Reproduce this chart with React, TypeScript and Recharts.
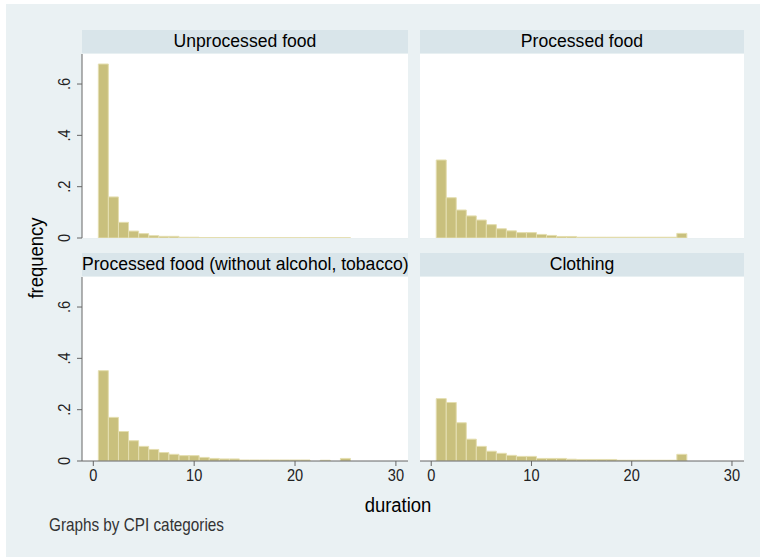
import { Bar, BarChart, CartesianGrid, XAxis, YAxis } from 'recharts'

const durations = [1, 2, 3, 4, 5, 6, 7, 8, 9, 10, 11, 12, 13, 14, 15, 16, 17, 18, 19, 20, 21, 22, 23, 24, 25]

const unprocessedFood = [
  0.678, 0.16, 0.061, 0.027, 0.017, 0.009, 0.0065, 0.0065, 0.003, 0.003, 0.002, 0.002, 0.0015,
  0.0015, 0.001, 0.001, 0.001, 0.001, 0.001, 0.001, 0.001, 0.001, 0.001, 0.001, 0.001,
]
const processedFood = [
  0.304, 0.157, 0.109, 0.086, 0.07, 0.052, 0.036, 0.028, 0.021, 0.021, 0.014, 0.01, 0.006, 0.006,
  0.003, 0.003, 0.003, 0.003, 0.003, 0.003, 0.003, 0.003, 0.003, 0.003, 0.018,
]
const processedNoAlcohol = [
  0.352, 0.17, 0.115, 0.079, 0.057, 0.045, 0.033, 0.026, 0.021, 0.021, 0.014, 0.01, 0.008, 0.008,
  0.004, 0.004, 0.004, 0.004, 0.004, 0.004, 0.004, 0, 0.003, 0, 0.01,
]
const clothing = [
  0.243, 0.228, 0.149, 0.085, 0.057, 0.038, 0.03, 0.022, 0.018, 0.018, 0.01, 0.01, 0.01, 0.007,
  0.006, 0.006, 0.006, 0.006, 0.003, 0.003, 0.003, 0.003, 0.003, 0.003, 0.026,
]

const yTicks = [0, 0.2, 0.4, 0.6]
const xTicks = [0, 10, 20, 30]

const BG = '#eaf1f3'
const HEADER = '#d9e5ea'
const BAR = '#c9c07d'
const AXIS = '#666666'
const SANS = '"Liberation Sans", Arial, sans-serif'

// stata uses a narrow face here, so squeeze Liberation Sans horizontally
function NarrowText({
  x,
  y,
  size,
  squeeze = 0.86,
  anchor = 'middle',
  rotate = false,
  fill = '#222',
  children,
}: {
  x: number
  y: number
  size: number
  squeeze?: number
  anchor?: 'start' | 'middle' | 'end'
  rotate?: boolean
  fill?: string
  children: React.ReactNode
}) {
  const t = rotate
    ? `translate(${x} ${y}) rotate(-90) scale(${squeeze} 1)`
    : `translate(${x} ${y}) scale(${squeeze} 1)`
  return (
    <text
      transform={t}
      textAnchor={anchor}
      dominantBaseline="central"
      fontFamily={SANS}
      fontSize={size}
      fill={fill}
    >
      {children}
    </text>
  )
}

function YTick({ x, y, payload }: { x?: number; y?: number; payload?: { value: number } }) {
  const v = payload?.value ?? 0
  const label = v === 0 ? '0' : '.' + Math.round(v * 10)
  return (
    <NarrowText x={(x ?? 0) - 11} y={y ?? 0} size={17} rotate>
      {label}
    </NarrowText>
  )
}

function XTick({ x, y, payload }: { x?: number; y?: number; payload?: { value: number } }) {
  return (
    <NarrowText x={x ?? 0} y={(y ?? 0) + 7} size={17}>
      {payload?.value}
    </NarrowText>
  )
}

interface PanelProps {
  title: string
  values: number[]
  left: number
  top: number
  showY: boolean
  showX: boolean
}

function Panel({ title, values, left, top, showY, showX }: PanelProps) {
  const data = durations.map((d, i) => ({ d, v: values[i] }))
  const width = showY ? 420 : 348
  const height = showX ? 240 : 210
  const plotLeft = left + (showY ? 82 : 12)
  const plotRight = left + width - 12
  return (
    <>
      <div
        style={{
          position: 'absolute',
          left: plotLeft,
          top: top - 10,
          width: plotRight - plotLeft,
          height: 23,
          background: HEADER,
          fontFamily: SANS,
          fontSize: 17.6,
          lineHeight: '23px',
          textAlign: 'center',
          whiteSpace: 'nowrap',
          color: '#000',
        }}
      >
        {title}
      </div>
      <div style={{ position: 'absolute', left, top }}>
        <BarChart
          width={width}
          height={height}
          data={data}
          barCategoryGap={0}
          barGap={0}
          margin={{ top: 14, right: 12, bottom: 12, left: showY ? 40 : 12 }}
        >
          <rect x={plotLeft - left} y={14} width={plotRight - plotLeft} height={184} fill="#ffffff" />
          <CartesianGrid horizontal vertical={false} stroke="#e6eef0" strokeWidth={1} />
          <XAxis
            dataKey="d"
            type="number"
            domain={[-1.12, 31.2]}
            ticks={xTicks}
            allowDataOverflow
            hide={!showX}
            height={30}
            stroke={AXIS}
            tickSize={5}
            tick={<XTick />}
          />
          <YAxis
            type="number"
            domain={[0, 0.717]}
            ticks={yTicks}
            allowDataOverflow
            hide={!showY}
            width={42}
            stroke={AXIS}
            tickSize={5}
            tick={<YTick />}
          />
          <Bar dataKey="v" fill={BAR} stroke="#e4deb0" strokeWidth={1} isAnimationActive={false} />
        </BarChart>
      </div>
    </>
  )
}

export default function App() {
  return (
    <div style={{ position: 'absolute', left: 0, top: 0, width: 760, height: 557, background: '#ffffff' }}>
      <div style={{ position: 'absolute', left: 6, top: 4, width: 754, height: 553, background: BG }} />
      <Panel title="Unprocessed food" values={unprocessedFood} left={0} top={40} showY showX={false} />
      <Panel title="Processed food" values={processedFood} left={408} top={40} showY={false} showX={false} />
      <Panel
        title="Processed food (without alcohol, tobacco)"
        values={processedNoAlcohol}
        left={0}
        top={263}
        showY
        showX
      />
      <Panel title="Clothing" values={clothing} left={408} top={263} showY={false} showX />
      <svg width={760} height={557} style={{ position: 'absolute', left: 0, top: 0, pointerEvents: 'none' }}>
        <NarrowText x={36} y={258} size={21} squeeze={0.88} rotate fill="#000">
          frequency
        </NarrowText>
        <NarrowText x={398} y={505} size={21} squeeze={0.88} fill="#000">
          duration
        </NarrowText>
        <NarrowText x={49} y={525} size={18} squeeze={0.85} anchor="start" fill="#333">
          Graphs by CPI categories
        </NarrowText>
      </svg>
    </div>
  )
}
